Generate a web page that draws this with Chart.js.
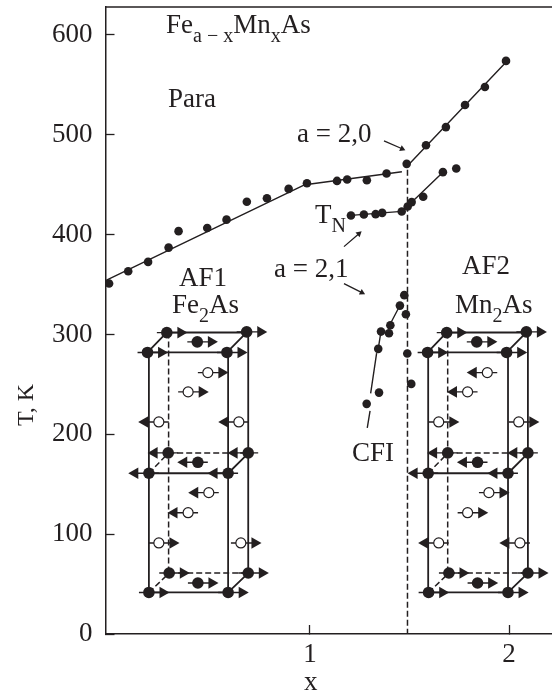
<!DOCTYPE html>
<html>
<head>
<meta charset="utf-8">
<style>
  html,body{margin:0;padding:0;background:#fff;}
  #wrap{width:552px;height:695px;position:relative;}
</style>
<script src="https://cdn.jsdelivr.net/npm/chart.js@4/dist/chart.umd.min.js"></script>
</head>
<body>
<div id="wrap"><canvas id="chart" width="552" height="695"></canvas></div>
<script>
const yTicks = [0,100,200,300,400,500,600];
const xTicks = [1,2];

// measured points, [x, T]
const seriesA20 = [[-0.009,351],[0.087,363.4],[0.187,372.7],[0.29,387],[0.34,403.5],[0.484,406.6],[0.581,415],[0.683,433],[0.784,436.4],[0.893,445.8],[0.985,451.4],[1.136,453.8],[1.187,455.2],[1.286,454.5],[1.385,461.2],[1.486,470.9],[1.583,489.6],[1.683,507.7],[1.779,529.8],[1.879,547.9],[1.985,574]];
const seriesTN = [[1.206,419.1],[1.271,420.1],[1.33,420.5],[1.363,421.8],[1.461,423.1],[1.491,428.2],[1.511,432.6],[1.569,438],[1.668,462.6],[1.735,466.2]];
const seriesCFI = [[1.474,339.4],[1.452,328.9],[1.482,320.3],[1.404,309.3],[1.357,302.9],[1.397,301.3],[1.343,285.6],[1.489,280.9],[1.509,250.5],[1.347,241.8],[1.285,230.5]];

// fitted curves, [x1, T1, x2, T2]
const curveSegments = [
  [-0.027,354,0.975,450],[0.975,450,1.462,463],
  [1.5,471,2.0,576],
  [1.206,419.3,1.461,423.3],[1.461,423.3,1.54,438],[1.54,438,1.668,462.6],
  [1.288,206.4,1.302,223.4],[1.305,241.1,1.335,281.3],[1.343,285.6,1.357,303],[1.402,310,1.452,329]
];
const dashedDivider = [1.49,465,1.49,0];

// magnetic cells: filled and open atoms as [x, T, spin]
const filledAtoms = [
  [0.281,301.9,1],[0.682,302.6,1],[0.184,282,1],[0.583,282,1],[0.434,292.6,1],
  [0.288,181.4,-1],[0.69,181.4,-1],[0.191,161,-1],[0.589,161,-1],[0.437,172,-1],
  [0.293,61.1,1],[0.69,61.1,1],[0.191,41.6,1],[0.589,41.6,1],[0.437,51.1,1],
  [1.687,301.9,1],[2.087,302.6,1],[1.591,282,1],[1.988,282,1],[1.838,292.6,1],
  [1.692,181.4,-1],[2.095,181.4,-1],[1.594,161,-1],[1.995,161,-1],[1.842,172,-1],
  [1.698,61.1,1],[2.095,61.1,1],[1.596,41.6,1],[1.995,41.6,1],[1.842,51.1,1]
];
const openAtoms = [
  [0.487,261.8,1],[0.388,242.5,1],[0.241,212.4,-1],[0.643,212.4,-1],
  [0.492,141.6,-1],[0.388,121.5,-1],[0.241,91.2,1],[0.653,91.2,1],
  [1.891,261.8,-1],[1.792,242.5,-1],[1.647,212.4,1],[2.049,212.4,1],
  [1.899,141.6,1],[1.792,121.5,1],[1.647,91.2,-1],[2.055,91.2,-1]
];
const cellSolid = [
  [0.184,282,0.583,282],[0.281,302,0.682,302],[0.184,282,0.281,302],[0.583,282,0.682,302],
  [0.191,282,0.191,41.6],[0.589,282,0.589,41.6],[0.69,302,0.69,61],
  [0.191,161,0.589,161],[0.589,161,0.69,181],[0.191,41.6,0.589,41.6],[0.589,41.6,0.69,61],
  [1.591,282,1.988,282],[1.687,302,2.087,302],[1.591,282,1.687,302],[1.988,282,2.087,302],
  [1.594,282,1.594,41.6],[1.995,282,1.995,41.6],[2.095,302,2.095,61],
  [1.594,161,1.995,161],[1.995,161,2.095,181],[1.594,41.6,1.995,41.6],[1.995,41.6,2.095,61]
];
const cellDashed = [
  [0.29,302,0.29,61],[0.288,181.4,0.69,181.4],[0.293,61,0.69,61],[0.191,161,0.288,181],[0.191,41.6,0.293,61],
  [1.692,302,1.692,61],[1.692,181.4,2.095,181.4],[1.698,61,2.095,61],[1.594,161,1.692,181],[1.596,41.6,1.698,61]
];

// callout arrows, [x1, T1, x2, T2, heading in degrees]
const callouts = [
  [1.372,494,1.463,486,114],
  [1.171,351,1.261,342,117],
  [1.171,388,1.246,401,49]
];

// text, [x px, baseline px, runs]; a run is [text, isSubscript]
const labels = [
  [166,33,[['Fe',0],['a − x',1],['Mn',0],['x',1],['As',0]]],
  [168,107,[['Para',0]]],
  [297,142,[['a = 2,0',0]]],
  [274,277,[['a = 2,1',0]]],
  [315,223,[['T',0],['N',1]]],
  [179,286,[['AF1',0]]],
  [172,313,[['Fe',0],['2',1],['As',0]]],
  [462,274,[['AF2',0]]],
  [455,313,[['Mn',0],['2',1],['As',0]]],
  [352,461,[['CFI',0]]],
  [304,690,[['x',0]]]
];

const INK = '#231f20';
const SERIF = '"Liberation Serif", serif';
const ARROW_OFFSET = 0.07, STUB_BACK = 0.05, STUB_FRONT = 0.06;

function toPolyline(segs){
  const out = [];
  segs.forEach(s=>{ out.push({x:s[0],y:s[1]},{x:s[2],y:s[3]},{x:null,y:null}); });
  return out;
}
function toPoints(list){ return list.map(p=>({x:p[0],y:p[1]})); }

const allAtoms = filledAtoms.concat(openAtoms);
const stubs = allAtoms.map(a=>[a[0]-a[2]*STUB_BACK,a[1],a[0]+a[2]*STUB_FRONT,a[1]]);
const arrowHeads = allAtoms.map(a=>({x:a[0]+a[2]*ARROW_OFFSET,y:a[1]}));
const arrowAngles = allAtoms.map(a=>a[2]>0?90:-90);

function lineSet(data, width, dash, order){
  return {type:'scatter', data, showLine:true, spanGaps:false, borderColor:INK, borderWidth:width, borderDash:dash||[], pointRadius:0, order};
}

const pageText = {
  id:'pageText',
  afterDraw(c){
    const ctx = c.ctx, a = c.chartArea;
    ctx.save();
    ctx.strokeStyle = INK; ctx.lineWidth = 1.5;
    ctx.beginPath(); ctx.moveTo(a.left,a.top); ctx.lineTo(a.right,a.top); ctx.stroke();
    ctx.fillStyle = INK; ctx.textBaseline = 'alphabetic';
    labels.forEach(l=>{
      let x = l[0];
      l[2].forEach(run=>{
        ctx.font = (run[1]?20:27)+'px '+SERIF;
        ctx.fillText(run[0], x, l[1]+(run[1]?9:0));
        x += ctx.measureText(run[0]).width;
      });
    });
    ctx.translate(33,405); ctx.rotate(-Math.PI/2);
    ctx.font = '24px '+SERIF; ctx.textAlign = 'center';
    ctx.fillText('T, K',0,0);
    ctx.restore();
  }
};

new Chart(document.getElementById('chart'), {
  type:'scatter',
  data:{datasets:[
    lineSet(toPolyline(curveSegments),1.4,null,9),
    lineSet(toPolyline([dashedDivider]),1.5,[6,3],9),
    lineSet(toPolyline(cellSolid),1.8,null,8),
    lineSet(toPolyline(cellDashed),1.5,[6,3],8),
    lineSet(toPolyline(callouts),1.3,null,8),
    {data:callouts.map(c=>({x:c[2],y:c[3]})), pointStyle:'triangle', rotation:callouts.map(c=>c[4]), pointRadius:3.6, backgroundColor:INK, borderWidth:0, order:7},
    {data:toPoints(seriesA20), pointRadius:4.3, backgroundColor:INK, borderWidth:0, order:5},
    {data:toPoints(seriesTN), pointRadius:4.3, backgroundColor:INK, borderWidth:0, order:5},
    {data:toPoints(seriesCFI), pointRadius:4.3, backgroundColor:INK, borderWidth:0, order:5},
    lineSet(toPolyline(stubs),1.4,null,4),
    {data:arrowHeads, pointStyle:'triangle', rotation:arrowAngles, pointRadius:6.7, backgroundColor:INK, borderWidth:0, order:3},
    {data:toPoints(filledAtoms), pointRadius:5.8, backgroundColor:INK, borderWidth:0, order:2},
    {data:toPoints(openAtoms), pointRadius:5, backgroundColor:'#fff', borderColor:INK, borderWidth:1.2, order:2}
  ]},
  options:{
    responsive:false,
    animation:false,
    layout:{autoPadding:false,padding:{left:0,right:0,top:7,bottom:0}},
    plugins:{legend:{display:false},tooltip:{enabled:false}},
    scales:{
      x:{
        type:'linear', min:-0.027, max:2.216,
        afterBuildTicks:s=>{ s.ticks = xTicks.map(v=>({value:v})); },
        afterFit:s=>{ s.height = 61; s.paddingLeft = 0; s.paddingRight = 0; },
        border:{color:INK,width:1.5},
        grid:{drawOnChartArea:false,tickLength:-9,color:INK,tickWidth:1.3},
        ticks:{padding:14,maxRotation:0,color:INK,font:{family:SERIF,size:27},callback:v=>String(v)}
      },
      y:{
        type:'linear', min:0, max:628,
        afterBuildTicks:s=>{ s.ticks = yTicks.map(v=>({value:v})); },
        afterFit:s=>{ s.width = 105.5; s.paddingTop = 0; s.paddingBottom = 0; },
        border:{color:INK,width:1.5},
        grid:{drawOnChartArea:false,tickLength:-9,color:INK,tickWidth:1.3},
        ticks:{padding:22,color:INK,font:{family:SERIF,size:27},callback:v=>String(v)}
      }
    }
  },
  plugins:[pageText]
});
</script>
</body>
</html>
